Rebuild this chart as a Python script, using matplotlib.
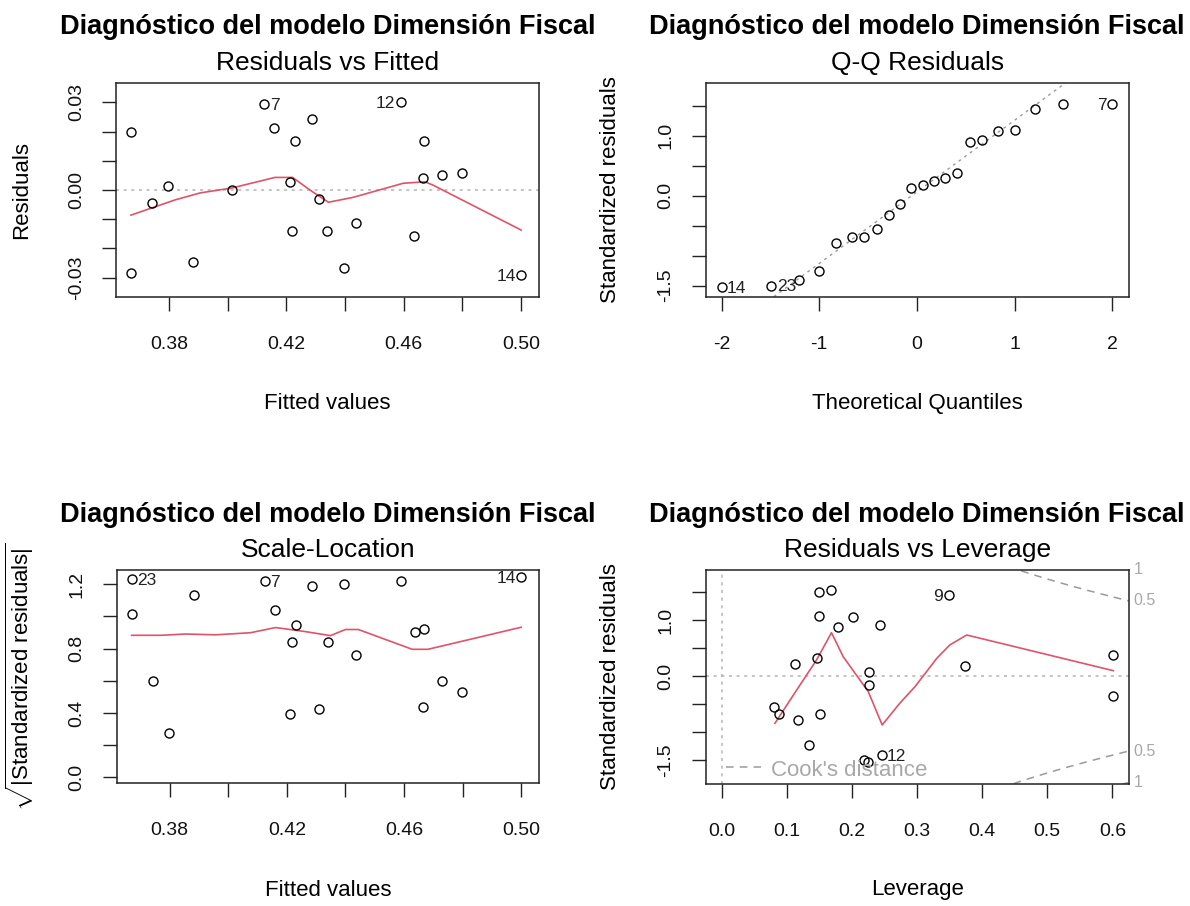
import numpy as np
import matplotlib
matplotlib.use("Agg")
import matplotlib.pyplot as plt

plt.rcParams['font.family'] = ['Liberation Sans', 'DejaVu Sans']
plt.rcParams['mathtext.fontset'] = 'custom'
plt.rcParams['mathtext.rm'] = 'Liberation Sans'
plt.rcParams['mathtext.it'] = 'Liberation Sans:italic'
plt.rcParams['mathtext.bf'] = 'Liberation Sans:bold'

# ---------------- data ----------------
main_title = "Diagnóstico del modelo Dimensión Fiscal"
captions = ["Residuals vs Fitted", "Q-Q Residuals", "Scale-Location", "Residuals vs Leverage"]

# Residuals vs Fitted (23 obs)
fitted = [0.3670, 0.3670, 0.3743, 0.3796, 0.3883, 0.4016, 0.4125, 0.4159, 0.4212, 0.4218,
          0.4230, 0.4287, 0.4311, 0.4339, 0.4396, 0.4437, 0.4589, 0.4636, 0.4664, 0.4670,
          0.4729, 0.4798, 0.5000]
residuals = [0.0200, -0.0283, -0.0044, 0.0014, -0.0247, 0.0000, 0.0295, 0.0211, 0.0026, -0.0139,
             0.0168, 0.0243, -0.0031, -0.0139, -0.0266, -0.0114, 0.0300, -0.0158, 0.0040, 0.0167,
             0.0051, 0.0059, -0.0291]
rvf_ids = {6: "7", 16: "12", 22: "14"}
rvf_smooth_x = [0.3670, 0.3820, 0.3906, 0.4015, 0.4161, 0.4221, 0.4280, 0.4343, 0.4428, 0.4598,
                0.4672, 0.4699, 0.5000]
rvf_smooth_y = [-0.0086, -0.0034, -0.0010, 0.0007, 0.0043, 0.0043, 0.0000, -0.0042, -0.0025, 0.0023,
                0.0028, 0.0017, -0.0137]

# Q-Q (22 obs with finite standardized residual)
qq_theoretical = [-2.00, -1.49, -1.21, -1.00, -0.83, -0.67, -0.54, -0.41, -0.29, -0.17, -0.06,
                  0.06, 0.17, 0.29, 0.41, 0.54, 0.67, 0.83, 1.00, 1.21, 1.49, 2.00]
qq_sample = [-1.53, -1.50, -1.40, -1.26, -0.79, -0.69, -0.69, -0.55, -0.33, -0.14, 0.12,
             0.17, 0.24, 0.29, 0.38, 0.89, 0.92, 1.07, 1.10, 1.44, 1.53, 1.53]
qq_ids = {0: "14", 1: "23", 21: "7"}
qq_line_pts = [(-1.248, -1.428), (1.521, 1.878)]

# Scale-Location (22 obs)
sl_fitted = [0.3670, 0.3670, 0.3743, 0.3796, 0.3883, 0.4125, 0.4159, 0.4212, 0.4218, 0.4230,
             0.4287, 0.4311, 0.4339, 0.4396, 0.4437, 0.4589, 0.4636, 0.4664, 0.4670, 0.4729,
             0.4798, 0.5000]
sl_sqrt_std = [1.014, 1.231, 0.600, 0.277, 1.132, 1.221, 1.039, 0.393, 0.842, 0.946,
               1.190, 0.424, 0.842, 1.201, 0.760, 1.221, 0.900, 0.439, 0.921, 0.600,
               0.528, 1.246]
sl_ids = {1: "23", 5: "7", 21: "14"}
sl_smooth_x = [0.3670, 0.3769, 0.3855, 0.3957, 0.4076, 0.4161, 0.4195, 0.4263, 0.4349, 0.4400,
               0.4444, 0.4628, 0.4682, 0.5000]
sl_smooth_y = [0.882, 0.882, 0.890, 0.885, 0.898, 0.930, 0.922, 0.905, 0.880, 0.918,
               0.918, 0.795, 0.795, 0.932]

# Residuals vs Leverage (22 obs)
leverage = [0.080, 0.087, 0.112, 0.117, 0.133, 0.146, 0.149, 0.149, 0.151, 0.167,
            0.178, 0.201, 0.218, 0.224, 0.226, 0.226, 0.243, 0.245, 0.348, 0.373,
            0.601, 0.601]
lev_std = [-0.548, -0.684, 0.214, -0.786, -1.24, 0.315, 1.505, 1.077, -0.679, 1.536,
           0.869, 1.048, -1.50, -1.53, 0.077, -0.161, 0.911, -1.41, 1.446, 0.179,
           0.375, -0.352]
lev_ids = {17: "12", 18: "9"}
lev_smooth_x = [0.081, 0.1145, 0.145, 0.168, 0.186, 0.2246, 0.246, 0.273, 0.2965, 0.330,
                0.350, 0.376, 0.6015]
lev_smooth_y = [-0.845, -0.25, 0.286, 0.773, 0.345, -0.28, -0.875, -0.4875, -0.19, 0.316,
                0.554, 0.732, 0.095]
cook_levels = [0.5, 1.0]
n_coef = 6

# ---------------- style ----------------
W, H = 1190, 906
RED = "#DF536B"
GRAY_REF = "#B4B4B4"
GRAY_COOK = "#9A9A9A"
GRAY_TXT = "#A8A8A8"

fig = plt.figure(figsize=(W / 100, H / 100), dpi=100)


def box(l, t, r, b):
    return [l / W, 1 - b / H, (r - l) / W, (b - t) / H]


def style(ax, xlim, ylim, xt, xtl, yt, ytl):
    ax.set_xlim(*xlim)
    ax.set_ylim(*ylim)
    ax.set_xticks(xt)
    ax.set_xticklabels(xtl)
    ax.set_yticks(yt)
    ax.set_yticklabels(ytl, rotation=90, va='center')
    for s in ax.spines.values():
        s.set_linewidth(1.1)
        s.set_color('#222222')
    ax.tick_params(axis='both', direction='out', length=10, width=1.0, color='#222222',
                   labelsize=14, labelcolor='#111111')
    ax.tick_params(axis='x', pad=18)
    ax.tick_params(axis='y', pad=12.5)


def points(ax, x, y):
    ax.plot(x, y, linestyle='none', marker='o', markersize=6.5, markerfacecolor='none',
            markeredgecolor='black', markeredgewidth=1.0, zorder=3)


def ids(ax, x, y, idmap, xmid):
    for i, lab in idmap.items():
        if x[i] > xmid:
            ax.annotate(lab, (x[i], y[i]), xytext=(-4, -1), textcoords='offset points',
                        ha='right', va='center', fontsize=12.5, color='#222222')
        else:
            ax.annotate(lab, (x[i], y[i]), xytext=(4, -1), textcoords='offset points',
                        ha='left', va='center', fontsize=12.5, color='#222222')


def titles(l, r, base1, base2, cap):
    xc = (l + r) / 2 / W
    fig.text(xc, 1 - base1 / H, main_title, ha='center', va='baseline', fontsize=19.5,
             fontweight='bold')
    fig.text(xc, 1 - base2 / H, cap, ha='center', va='baseline', fontsize=19)


def labels(ax, xl, yl, bottom_px, top_px, left_px, right_px, xlab_y, ylab_x):
    hpx = bottom_px - top_px
    wpx = right_px - left_px
    ax.set_xlabel(xl, fontsize=16, va='center')
    ax.xaxis.set_label_coords(0.5, -(xlab_y - bottom_px) / hpx)
    ax.set_ylabel(yl, fontsize=16, va='center')
    ax.yaxis.set_label_coords(-(left_px - ylab_x) / wpx, 0.5)


# ---------- Panel 1: Residuals vs Fitted ----------
L1, T1, R1, B1 = 116, 82.7, 539.3, 296.7
ax1 = fig.add_axes(box(L1, T1, R1, B1))
style(ax1, (0.3619, 0.5062), (-0.0365, 0.0367),
      [0.38, 0.40, 0.42, 0.44, 0.46, 0.48, 0.50], ["0.38", "", "0.42", "", "0.46", "", "0.50"],
      [-0.03, -0.02, -0.01, 0.0, 0.01, 0.02, 0.03], ["-0.03", "", "", "0.00", "", "", "0.03"])
ax1.axhline(0, color=GRAY_REF, lw=1.1, linestyle=(0, (2, 3)), zorder=1)
ax1.plot(rvf_smooth_x, rvf_smooth_y, color=RED, lw=1.2, zorder=2)
points(ax1, fitted, residuals)
ids(ax1, fitted, residuals, rvf_ids, (min(fitted) + max(fitted)) / 2)
titles(L1, R1, 34.3, 70, captions[0])
labels(ax1, "Fitted values", "Residuals", B1, T1, L1, R1, 403, 22)

# ---------- Panel 2: Q-Q ----------
L2, T2, R2, B2 = 705.7, 82.7, 1128.7, 296.7
ax2 = fig.add_axes(box(L2, T2, R2, B2))
style(ax2, (-2.162, 2.166), (-1.686, 1.880),
      [-2, -1, 0, 1, 2], ["-2", "-1", "0", "1", "2"],
      [-1.5, -1.0, -0.5, 0.0, 0.5, 1.0, 1.5], ["-1.5", "", "", "0.0", "", "1.0", ""])
ax2.axline(qq_line_pts[0], qq_line_pts[1], color='#9A9A9A', lw=1.0, linestyle=(0, (2, 3)), zorder=1)
points(ax2, qq_theoretical, qq_sample)
ids(ax2, qq_theoretical, qq_sample, qq_ids, 0.0)
titles(L2, R2, 34.3, 70, captions[1])
labels(ax2, "Theoretical Quantiles", "Standardized residuals", B2, T2, L2, R2, 403, 610)

# ---------- Panel 3: Scale-Location ----------
L3, T3, R3, B3 = 116.7, 570, 539.3, 782.7
ax3 = fig.add_axes(box(L3, T3, R3, B3))
style(ax3, (0.3619, 0.5062), (-0.0335, 1.2876),
      [0.38, 0.40, 0.42, 0.44, 0.46, 0.48, 0.50], ["0.38", "", "0.42", "", "0.46", "", "0.50"],
      [0.0, 0.2, 0.4, 0.6, 0.8, 1.0, 1.2], ["0.0", "", "0.4", "", "0.8", "", "1.2"])
ax3.plot(sl_smooth_x, sl_smooth_y, color=RED, lw=1.2, zorder=2)
points(ax3, sl_fitted, sl_sqrt_std)
ids(ax3, sl_fitted, sl_sqrt_std, sl_ids, (min(sl_fitted) + max(sl_fitted)) / 2)
titles(L3, R3, 521.6, 557.3, captions[2])
labels(ax3, "Fitted values", r"$\sqrt{|\mathrm{Standardized\ residuals}|}$", B3, T3, L3, R3, 890, 20)

# ---------- Panel 4: Residuals vs Leverage ----------
L4, T4, R4, B4 = 705.7, 570, 1128.7, 784
ax4 = fig.add_axes(box(L4, T4, R4, B4))
xl4 = (-0.0255, 0.6252)
yl4 = (-1.929, 1.893)
style(ax4, xl4, yl4,
      [0.0, 0.1, 0.2, 0.3, 0.4, 0.5, 0.6], ["0.0", "0.1", "0.2", "0.3", "0.4", "0.5", "0.6"],
      [-1.5, -1.0, -0.5, 0.0, 0.5, 1.0, 1.5], ["-1.5", "", "", "0.0", "", "1.0", ""])
ax4.axhline(0, color=GRAY_REF, lw=1.1, linestyle=(0, (2, 3)), zorder=1)
ax4.axvline(0, color=GRAY_REF, lw=1.1, linestyle=(0, (2, 3)), zorder=1)
hh = np.linspace(0.01, xl4[1], 201)
for lev in cook_levels:
    cy = np.sqrt(lev * n_coef * (1 - hh) / hh)
    ax4.plot(hh, cy, color=GRAY_COOK, lw=1.1, linestyle=(0, (5, 4)), zorder=1)
    ax4.plot(hh, -cy, color=GRAY_COOK, lw=1.1, linestyle=(0, (5, 4)), zorder=1)
ax4.plot(lev_smooth_x, lev_smooth_y, color=RED, lw=1.2, zorder=2)
points(ax4, leverage, lev_std)
ids(ax4, leverage, lev_std, lev_ids, (min(leverage) + max(leverage)) / 2)
xmax = min(0.99, xl4[1])
ymult = np.sqrt(n_coef * (1 - xmax) / xmax)
for lev in cook_levels:
    for sgn in (1, -1):
        ax4.text(1.012, sgn * np.sqrt(lev) * ymult, f"{lev:g}", transform=ax4.get_yaxis_transform(),
                 ha='left', va='center', fontsize=11.5, color=GRAY_TXT, clip_on=False)
# legend ("Cook's distance", bottom-left)
ax4.plot([0.005, 0.060], [-1.625, -1.625], color=GRAY_COOK, lw=1.1, linestyle=(0, (5, 4)))
ax4.text(0.0757, -1.68, "Cook's distance", ha='left', va='center', fontsize=16, color=GRAY_TXT)
titles(L4, R4, 521.6, 557.3, captions[3])
labels(ax4, "Leverage", "Standardized residuals", B4, T4, L4, R4, 890, 610)

fig.savefig("out.png", dpi=100)
